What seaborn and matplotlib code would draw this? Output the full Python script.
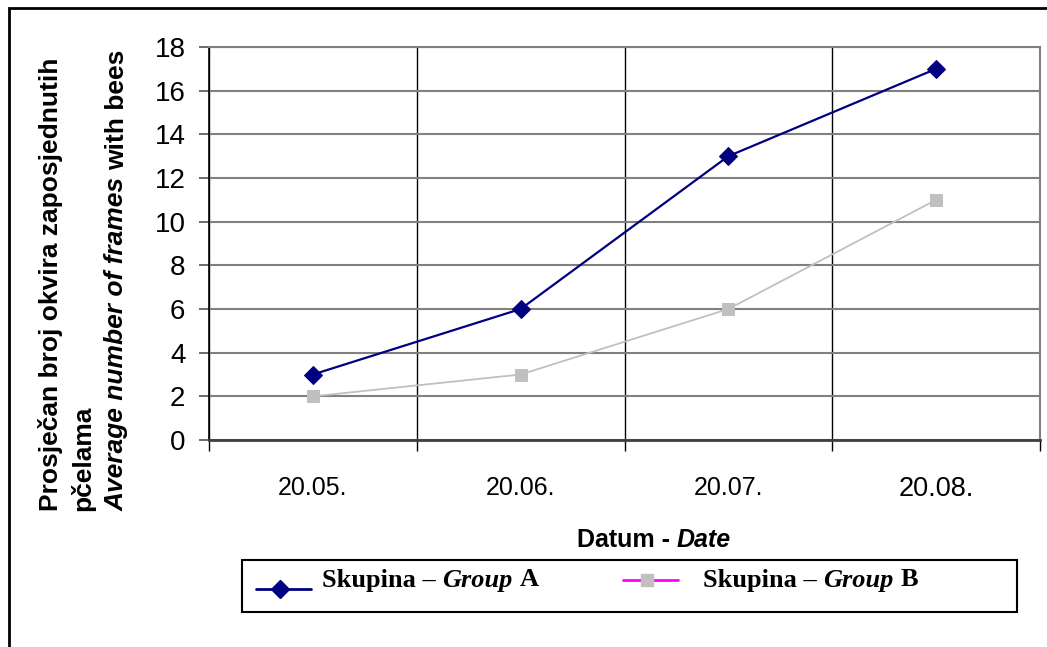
import matplotlib
matplotlib.use("Agg")
import matplotlib.pyplot as plt
import seaborn as sns
from matplotlib.lines import Line2D
from matplotlib.patches import Rectangle
from matplotlib.transforms import offset_copy

# data
dates = ["20.05.", "20.06.", "20.07.", "20.08."]
group_a = [3, 6, 13, 17]
group_b = [2, 3, 6, 11]
y_ticks = list(range(0, 20, 2))

sns.set_theme(style="white")
plt.rcParams["font.family"] = ["Liberation Sans", "DejaVu Sans"]
plt.rcParams["text.color"] = "black"
plt.rcParams["xtick.color"] = "black"
plt.rcParams["ytick.color"] = "black"

W, H = 1047, 647
fig = plt.figure(figsize=(W / 100, H / 100), dpi=100)
ax = fig.add_axes([209 / W, 207 / H, 831 / W, 393 / H])


def text_run(x, y, parts, rotation=0, **kw):
    """Draw consecutive pieces of text with different font styles."""
    renderer = fig.canvas.get_renderer()
    a = fig.text(0, 0, "a a", **kw)
    b = fig.text(0, 0, "aa", **kw)
    space = a.get_window_extent(renderer).width - b.get_window_extent(renderer).width
    a.remove()
    b.remove()
    shift = 0.0
    for i, (s, style) in enumerate(parts):
        if i > 0:
            shift += space
        if rotation == 90:
            tr = offset_copy(fig.transFigure, fig=fig, y=shift, units="dots")
            t = fig.text(x, y, s, transform=tr, rotation=90, ha="center", va="bottom",
                         fontstyle=style, **kw)
            shift += t.get_window_extent(renderer).height
        else:
            tr = offset_copy(fig.transFigure, fig=fig, x=shift, units="dots")
            t = fig.text(x, y, s, transform=tr, ha="left", va="center",
                         fontstyle=style, **kw)
            shift += t.get_window_extent(renderer).width


# series
sns.lineplot(x=dates, y=group_a, color="#000080", linewidth=1.6, marker="D",
             markersize=9, markeredgecolor="#000080", ax=ax)
sns.lineplot(x=dates, y=group_b, color="#C0C0C0", linewidth=1.3, marker="s",
             markersize=9, markeredgecolor="#C0C0C0", ax=ax)

ax.set_xlim(-0.5, 3.5)
ax.set_ylim(0, 18)
ax.set_yticks(y_ticks)
ax.set_xticks(range(len(dates)))
ax.set_xticklabels(dates)
ax.set_xticks([i - 0.5 for i in range(len(dates) + 1)], minor=True)
ax.set_xlabel("")
ax.set_ylabel("")

ax.grid(axis="y", color="#808080", linewidth=1.5)
ax.grid(axis="x", which="minor", color="black", linewidth=1)
ax.set_axisbelow(True)

ax.tick_params(axis="x", which="major", length=0, pad=26, labelsize=18, bottom=True)
ax.tick_params(axis="x", which="minor", length=8, width=1, color="black",
               direction="out", bottom=True)
ax.tick_params(axis="y", length=7, width=1.3, color="#606060", direction="out",
               left=True, pad=10, labelsize=20)
ax.get_xticklabels()[-1].set_fontsize(19.5)

for side in ["top", "right"]:
    ax.spines[side].set_color("#808080")
    ax.spines[side].set_linewidth(1.5)
ax.spines["left"].set_color("black")
ax.spines["left"].set_linewidth(1.2)
ax.spines["bottom"].set_color("#404040")
ax.spines["bottom"].set_linewidth(2)

# y axis title, three lines
fig.text(51 / W, 1 - 511 / H, "Prosječan broj okvira zaposjednutih", rotation=90,
         ha="center", va="bottom", fontsize=19, fontweight="bold")
fig.text(83 / W, 1 - 511 / H, "pčelama", rotation=90,
         ha="center", va="bottom", fontsize=19, fontweight="bold")
text_run(117 / W, 1 - 511 / H,
         [("Average number of frames", "italic"), ("with bees", "normal")],
         rotation=90, fontsize=19, fontweight="bold")

# x axis title
text_run(577 / W, 1 - 540 / H, [("Datum -", "normal"), ("Date", "italic")],
         fontsize=18, fontweight="bold")

# legend box
fig.add_artist(Rectangle((242 / W, 1 - 612 / H), 775 / W, 52 / H, transform=fig.transFigure,
                         fill=False, edgecolor="black", linewidth=1.5))
ya = 1 - 589 / H
fig.add_artist(Line2D([256 / W, 311 / W], [ya, ya], transform=fig.transFigure,
                      color="#000080", linewidth=2))
fig.add_artist(Line2D([280 / W], [ya], transform=fig.transFigure, marker="D",
                      markersize=9, color="#000080"))
yb = 1 - 580 / H
fig.add_artist(Line2D([623 / W, 678 / W], [yb, yb], transform=fig.transFigure,
                      color="#FF00FF", linewidth=2))
fig.add_artist(Line2D([647 / W], [yb], transform=fig.transFigure, marker="s",
                      markersize=9, color="#C0C0C0"))
leg_font = dict(fontsize=19, fontweight="bold", family=["Liberation Serif", "DejaVu Serif"])
text_run(322 / W, 1 - 580 / H, [("Skupina –", "normal"), ("Group", "italic"), ("A", "normal")],
         **leg_font)
text_run(703 / W, 1 - 580 / H, [("Skupina –", "normal"), ("Group", "italic"), ("B", "normal")],
         **leg_font)

# outer chart frame
fig.add_artist(Rectangle((9 / W, -0.1), 1.2, 1.1 - 8 / H, transform=fig.transFigure,
                         fill=False, edgecolor="black", linewidth=2, clip_on=False))

fig.savefig("out.png", dpi=100)
